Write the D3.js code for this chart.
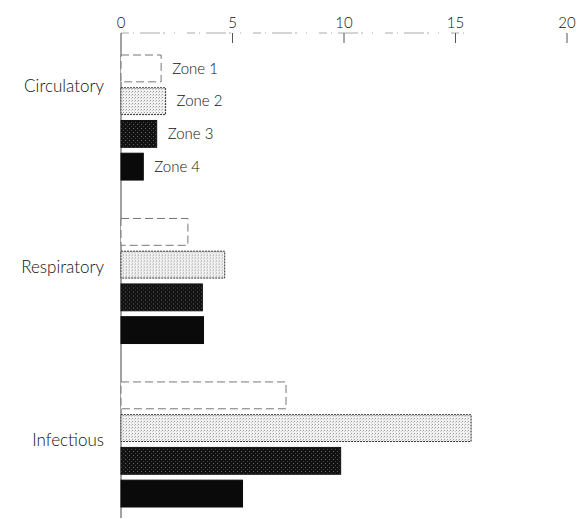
<!DOCTYPE html>
<html>
<head>
<meta charset="utf-8">
<script src="https://cdn.jsdelivr.net/npm/d3@7"></script>
<style>
  body { margin: 0; background: #fff; }
  svg { display: block; }
  text { font-family: Lato, "Open Sans", sans-serif; font-weight: 300; fill: #111; }
</style>
</head>
<body>
<svg></svg>
<script>
var categories = ["Circulatory", "Respiratory", "Infectious"];
var zones = ["Zone 1", "Zone 2", "Zone 3", "Zone 4"];
var zone1 = [1.8, 3.0, 7.4];
var zone2 = [2.0, 4.65, 15.7];
var zone3 = [1.6, 3.65, 9.85];
var zone4 = [1.0, 3.7, 5.45];
var ticks = [0, 5, 10, 15, 20];

function main() {
  var width = 577;
  var height = 519;
  var series = [zone1, zone2, zone3, zone4];

  var svg = d3.select("svg")
    .attr("width", width)
    .attr("height", height);

  var defs = svg.append("defs");

  // light stipple for zone 2
  var p2 = defs.append("pattern")
    .attr("id", "stip")
    .attr("width", 3).attr("height", 3)
    .attr("patternUnits", "userSpaceOnUse");
  p2.append("rect").attr("width", 3).attr("height", 3).attr("fill", "#f2f2f2");
  p2.append("rect").attr("x", 0).attr("y", 0).attr("width", 1).attr("height", 1).attr("fill", "#9a9a9a");
  p2.append("rect").attr("x", 2).attr("y", 1).attr("width", 1).attr("height", 1).attr("fill", "#c8c8c8");

  // dark speckle for zone 3
  var p3 = defs.append("pattern")
    .attr("id", "speck")
    .attr("width", 4).attr("height", 4)
    .attr("patternUnits", "userSpaceOnUse");
  p3.append("rect").attr("width", 4).attr("height", 4).attr("fill", "#111");
  p3.append("rect").attr("x", 1).attr("y", 1).attr("width", 1).attr("height", 1).attr("fill", "#666");
  p3.append("rect").attr("x", 3).attr("y", 3).attr("width", 1).attr("height", 1).attr("fill", "#444");

  var x = d3.scaleLinear().domain([0, 20]).range([121, 567]);

  var y = d3.scaleBand()
    .domain(categories)
    .range([55, 507])
    .paddingInner(0.235)
    .paddingOuter(0);

  var yz = d3.scaleBand()
    .domain(zones)
    .range([0, y.bandwidth()])
    .paddingInner(0.18);

  // top axis (faint broken rule)
  var axisY = 33;
  svg.append("line")
    .attr("x1", x(0)).attr("x2", x(20) - 100)
    .attr("y1", axisY).attr("y2", axisY)
    .attr("stroke", "#aaa")
    .attr("stroke-width", 1)
    .attr("stroke-dasharray", "8,4,1,6,20,3,2,9,1,12");

  svg.selectAll(".tick")
    .data(ticks.slice(1))
    .enter()
    .append("line")
    .attr("x1", function(d) { return x(d); })
    .attr("x2", function(d) { return x(d); })
    .attr("y1", axisY)
    .attr("y2", axisY + 10)
    .attr("stroke", "#555");

  svg.selectAll(".ticklabel")
    .data(ticks)
    .enter()
    .append("text")
    .attr("x", function(d) { return x(d); })
    .attr("y", 28)
    .attr("text-anchor", "middle")
    .style("font-size", "15px")
    .text(function(d) { return d; });

  // vertical axis line
  svg.append("line")
    .attr("x1", x(0)).attr("x2", x(0))
    .attr("y1", axisY).attr("y2", 518)
    .attr("stroke", "#444")
    .attr("stroke-width", 1);

  var fills = ["#fff", "url(#stip)", "url(#speck)", "#0a0a0a"];
  var strokes = ["#777", "#333", "#111", "#0a0a0a"];
  var dashes = ["8,4", "2,1", null, null];

  var groups = svg.selectAll(".grp")
    .data(categories)
    .enter()
    .append("g")
    .attr("transform", function(d) { return "translate(0," + y(d) + ")"; });

  groups.each(function(cat, ci) {
    var g = d3.select(this);
    zones.forEach(function(z, zi) {
      var v = series[zi][ci];
      g.append("rect")
        .attr("x", x(0))
        .attr("y", yz(z))
        .attr("width", x(v) - x(0))
        .attr("height", yz.bandwidth())
        .attr("fill", fills[zi])
        .attr("stroke", strokes[zi])
        .attr("stroke-width", 1)
        .attr("stroke-dasharray", dashes[zi]);
      if (ci === 0) {
        g.append("text")
          .attr("x", x(v) + 11)
          .attr("y", yz(z) + yz.bandwidth() / 2)
          .attr("dy", "0.35em")
          .style("font-size", "15px")
          .text(z);
      }
    });
  });

  // category labels sit a little above the group centre
  var labelShift = [-31, -14, -4];
  svg.selectAll(".catlabel")
    .data(categories)
    .enter()
    .append("text")
    .attr("x", 104)
    .attr("y", function(d, i) { return y(d) + y.bandwidth() / 2 + labelShift[i]; })
    .attr("dy", "0.35em")
    .attr("text-anchor", "end")
    .style("font-size", "17px")
    .text(function(d) { return d; });
}

main();
</script>
</body>
</html>
